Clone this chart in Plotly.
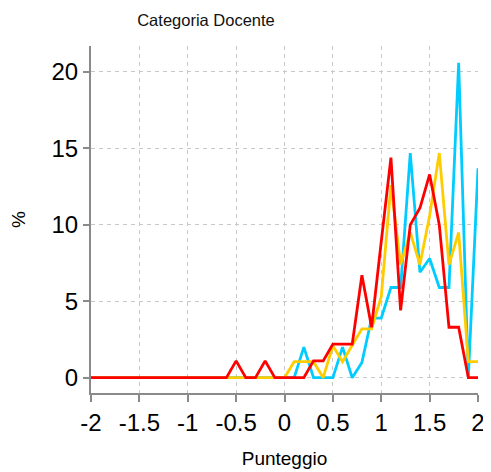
import plotly.graph_objects as go

x_vals = [round(-2 + 0.1 * i, 1) for i in range(41)]

# values (percent), x = -2.0 .. 2.0 step 0.1
cyan = [0]*20 + [0, 0, 2.0, 0, 0, 0, 2.0, 0, 1.0, 3.9, 3.9,
                 5.9, 5.9, 14.7, 6.9, 7.8, 5.9, 5.9, 20.6, 0, 13.7]
yellow = [0]*20 + [0, 1.05, 1.05, 1.05, 0, 2.1, 1.05, 2.1, 3.2, 3.2, 5.3,
                   12.6, 7.4, 9.5, 7.4, 10.6, 14.7, 7.4, 9.5, 1.05, 1.05]
red = [0]*15 + [1.1, 0, 0, 1.1, 0, 0, 0, 0, 1.1, 1.1, 2.2, 2.2, 2.2, 6.7, 3.3, 8.9,
                14.4, 4.4, 10.0, 11.1, 13.3, 10.0, 3.3, 3.3, 0, 0]

x_ticks = [-2, -1.5, -1, -0.5, 0, 0.5, 1, 1.5, 2]
x_tick_text = ["-2", "-1.5", "-1", "-0.5", "0", "0.5", "1", "1.5", "2"]
y_ticks = [0, 5, 10, 15, 20]

fig = go.Figure()
for vals, col in [(cyan, "#00CCFF"), (yellow, "#FFCC00"), (red, "#FF0000")]:
    fig.add_trace(go.Scatter(x=x_vals, y=vals, mode="lines",
                             line=dict(color=col, width=2.8), showlegend=False))

# the page body adds an 8px margin, so the figure is sized to fit inside it
W, H = 483, 464
font_family = "Liberation Sans, Arial, sans-serif"
fig.update_layout(
    width=W, height=H,
    margin=dict(l=83, r=13, t=38, b=79, autoexpand=False),
    paper_bgcolor="white", plot_bgcolor="white",
    title=dict(text="Categoria Docente", x=198/W, xanchor="center",
               y=1 - 12/H, yanchor="middle",
               font=dict(family=font_family, size=16.5, color="#111")),
    font=dict(family=font_family, color="#000"),
)
fig.update_xaxes(
    range=[-2, 2], tickvals=x_ticks, ticktext=x_tick_text, automargin=False,
    tickfont=dict(size=24), showgrid=True, gridcolor="#c8c8c8", griddash="4px,4px",
    gridwidth=1, zeroline=False, showline=True, linecolor="#8a8a8a", linewidth=2,
    ticks="outside", ticklen=7, tickcolor="#8a8a8a", tickwidth=2,
    title=dict(text="Punteggio", font=dict(size=19), standoff=17),
)
fig.update_yaxes(
    range=[-1, 21.7], tickvals=y_ticks, automargin=False,
    tickfont=dict(size=24), showgrid=True, gridcolor="#c8c8c8", griddash="4px,4px",
    gridwidth=1, zeroline=False, showline=True, linecolor="#8a8a8a", linewidth=2,
    ticks="outside", ticklen=6, tickcolor="#8a8a8a", tickwidth=2,
    title=dict(text="%", font=dict(size=19), standoff=29),
)
fig.write_html("out.html")
